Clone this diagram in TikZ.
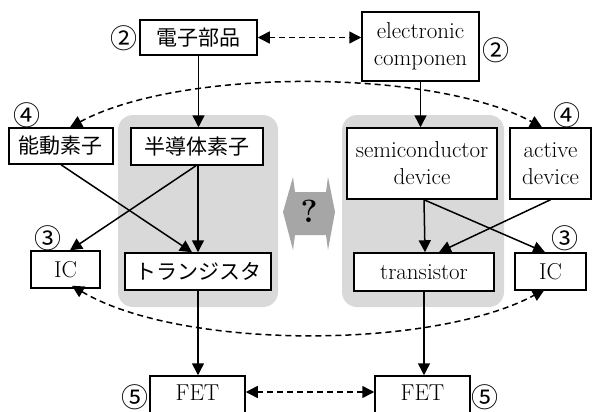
\documentclass[tikz,border=0pt]{standalone}
\usepackage{fontspec}
\newfontfamily\jp{Noto Sans CJK JP}
\usetikzlibrary{arrows.meta}
\definecolor{panel}{RGB}{217,217,217}
\definecolor{qgray}{RGB}{166,166,166}
\begin{document}
\begin{tikzpicture}[x=1pt,y=-1pt,
  box/.style={draw, line width=1.5pt, inner sep=0pt, fill=white, align=center, font=\fontsize{23}{27}\selectfont},
  jpbox/.style={box, font=\jp\fontsize{21}{25}\selectfont},
  arr/.style={line width=1.5pt, -{Triangle[length=12pt,width=12pt]}},
  darr/.style={line width=1.5pt, dash pattern=on 6pt off 4pt, {Triangle[length=12pt,width=12pt]}-{Triangle[length=12pt,width=12pt]}},
  num/.style={inner sep=0pt, font=\jp\fontsize{27}{27}\selectfont}]
\clip (0,0) rectangle (592,412);
\fill[white] (0,0) rectangle (592,412);
% panels
\fill[panel, rounded corners=15pt] (118,115) rectangle (278,307);
\fill[panel, rounded corners=15pt] (342,115) rectangle (504,307);
% question shape
\fill[qgray] (283,212) -- (293,177) -- (295,192) -- (326,192) -- (328,177) -- (335,212)
  -- (328,250) -- (326,235) -- (295,235) -- (293,250) -- cycle;
\node[inner sep=0pt, font=\bfseries\fontsize{32}{32}\selectfont] (q) at (309,211) {?};
% nodes
\node[jpbox, minimum width=117pt, minimum height=35pt] (jp1) at (198.5,37.5) {電子部品};
\node[box, minimum width=117pt, minimum height=69pt] (en1) at (420.5,46.5) {electronic\\componen};
\node[jpbox, minimum width=104pt, minimum height=36pt] (jp4) at (61,146) {能動素子};
\node[jpbox, minimum width=132pt, minimum height=37pt] (jp5) at (197,146.5) {半導体素子};
\node[box, minimum width=150pt, minimum height=71pt] (en5) at (422,163.5) {semiconductor\\device};
\node[box, minimum width=81pt, minimum height=71pt] (en4) at (550.5,163.5) {active\\device};
\node[box, minimum width=69pt, minimum height=37pt] (jpIC) at (65.5,269.5) {IC};
\node[jpbox, minimum width=146pt, minimum height=37pt] (jpTr) at (198,271.5) {トランジスタ};
\node[box, minimum width=140pt, minimum height=38pt] (enTr) at (424,272) {transistor};
\node[box, minimum width=71pt, minimum height=37pt] (enIC) at (550.5,271.5) {IC};
\node[box, anchor=base, minimum width=95pt, text height=20pt, text depth=16pt, inner ysep=4pt] (jpFET) at (197.5,400) {FET};
\node[box, anchor=base, minimum width=95pt, text height=20pt, text depth=16pt, inner ysep=4pt] (enFET) at (422.5,400) {FET};
% numbers
\node[num] (n1) at (124,38) {②};
\node[num] (n2) at (496,50) {②};
\node[num] (n3) at (27,115) {④};
\node[num] (n4) at (567,115) {④};
\node[num] (n5) at (48,238) {③};
\node[num] (n6) at (565,238) {③};
\node[num] (n7) at (135,397) {⑤};
\node[num] (n8) at (485,397) {⑤};
% solid arrows
\draw[arr] (jp1.south) -- (jp1.south |- jp5.north);
\draw[arr] (en1.south) -- (en1.south |- en5.north);
\draw[arr] (jp4.south) -- ([xshift=-6pt]jpTr.north);
\draw[arr] ([xshift=-1pt]jp5.south) -- ([xshift=4.5pt]jpIC.north);
\draw[arr] ([xshift=1pt]jp5.south) -- (jpTr.north);
\draw[arr] ([xshift=2pt]en5.south) -- ([xshift=1pt]enTr.north);
\draw[arr] ([xshift=2pt]en5.south) -- ([xshift=-5.5pt]enIC.north);
\draw[arr] (en4.south) -- ([xshift=15pt]enTr.north);
\draw[arr] (jpTr.south) -- (jpTr.south |- jpFET.north);
\draw[arr] (enTr.south) -- (enTr.south |- enFET.north);
% dashed arrows
\draw[darr] (jp1.east) -- (jp1.east -| en1.west);
\draw[darr] (jpFET.east |- 0,392) -- (enFET.west |- 0,392);
\draw[darr] ([xshift=9pt]jp4.north) .. controls (180,68) and (432,68) .. ([xshift=-8.5pt]en4.north);
\draw[darr] ([xshift=6.5pt,yshift=3pt]jpIC.south) .. controls (180,350) and (432,350) .. ([xshift=-6pt,yshift=1pt]enIC.south);
\end{tikzpicture}
\end{document}
